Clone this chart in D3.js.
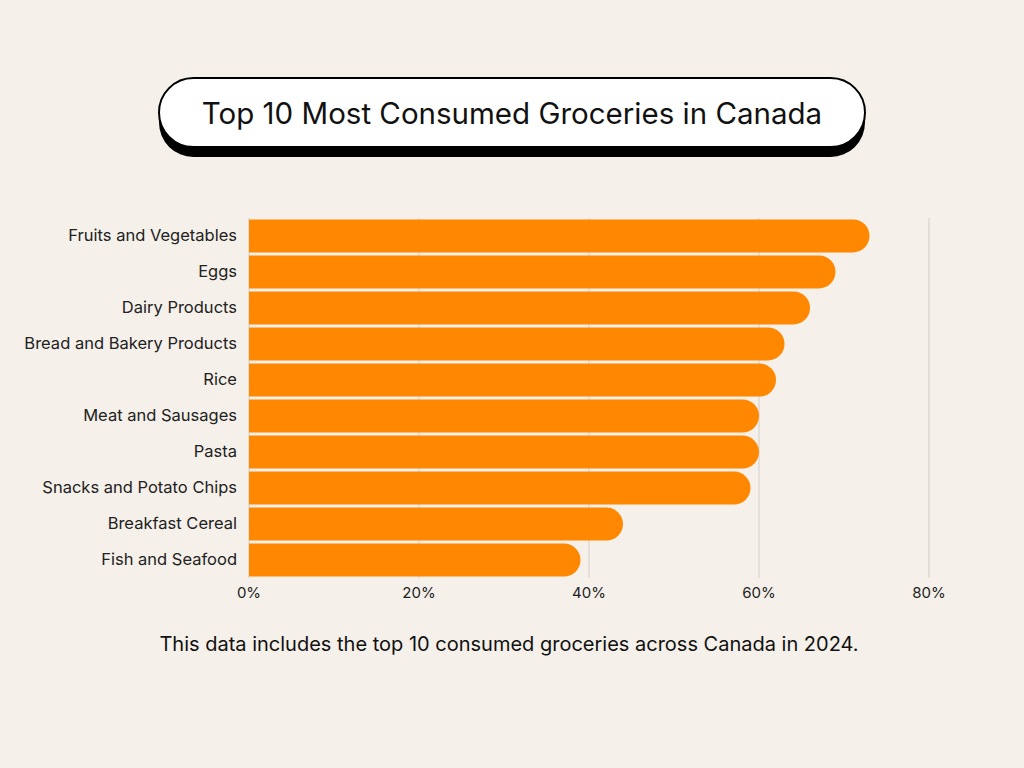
<!DOCTYPE html>
<html><head><meta charset="utf-8">
<script src="https://cdn.jsdelivr.net/npm/d3@7"></script>
<style>html,body{margin:0;padding:0;background:#f5f0e9;}svg{display:block;font-family:Inter,"Noto Sans",sans-serif;}</style>
</head><body>
<svg id="c" width="1024" height="768"></svg>
<script>
const categories = ["Fruits and Vegetables","Eggs","Dairy Products","Bread and Bakery Products","Rice","Meat and Sausages","Pasta","Snacks and Potato Chips","Breakfast Cereal","Fish and Seafood"];
const values = [73,69,66,63,62,60,60,59,44,39];
const tickValues = [0,20,40,60,80];
const titleText = "Top 10 Most Consumed Groceries in Canada";
const noteText = "This data includes the top 10 consumed groceries across Canada in 2024.";

const svg = d3.select("#c");
svg.append("rect").attr("width",1024).attr("height",768).attr("fill","#f5f0e9");

// Title pill
const tb = {x:159,y:78,w:706,h:69,r:34.5};
svg.append("rect").attr("x",tb.x).attr("y",tb.y+10).attr("width",tb.w).attr("height",tb.h)
  .attr("rx",tb.r).attr("fill","#000");
svg.append("rect").attr("x",tb.x).attr("y",tb.y).attr("width",tb.w).attr("height",tb.h)
  .attr("rx",tb.r).attr("fill","#fff").attr("stroke","#000").attr("stroke-width",2);
svg.append("text").attr("x",512).attr("y",tb.y+tb.h/2).attr("text-anchor","middle")
  .attr("dominant-baseline","central").attr("font-size",29.5).attr("fill","#111").text(titleText);

const x = d3.scaleLinear().domain([0,80]).range([249,929]);
const y = d3.scaleBand().domain(categories).range([218,578]).paddingInner(0.085).paddingOuter(0.04);

// grid
svg.append("g").selectAll("line").data(tickValues).join("line")
  .attr("x1",d=>x(d)).attr("x2",d=>x(d)).attr("y1",218).attr("y2",578)
  .attr("stroke","#d8d4ce").attr("stroke-width",1.2);

// bars: square left, round right
const bh = y.bandwidth();
svg.append("g").selectAll("path").data(categories).join("path")
  .attr("fill","#ff8800")
  .attr("d",(c,i)=>{
    const x0 = x(0), x1 = x(values[i]), y0 = y(c), r = bh/2;
    return `M${x0},${y0}H${x1-r}A${r},${r} 0 0 1 ${x1-r},${y0+bh}H${x0}Z`;
  });

// category labels
svg.append("g").selectAll("text").data(categories).join("text")
  .attr("x",237).attr("y",c=>y(c)+bh/2-1).attr("text-anchor","end")
  .attr("dominant-baseline","central").attr("font-size",16.5).attr("fill","#222").text(c=>c);

// x axis ticks
svg.append("g").selectAll("text").data(tickValues).join("text")
  .attr("x",d=>x(d)).attr("y",592).attr("text-anchor","middle")
  .attr("dominant-baseline","central").attr("font-size",15).attr("fill","#222").text(d=>d+"%");

svg.append("text").attr("x",509).attr("y",644).attr("text-anchor","middle")
  .attr("dominant-baseline","central").attr("font-size",20).attr("fill","#111").text(noteText);
</script>
</body></html>
